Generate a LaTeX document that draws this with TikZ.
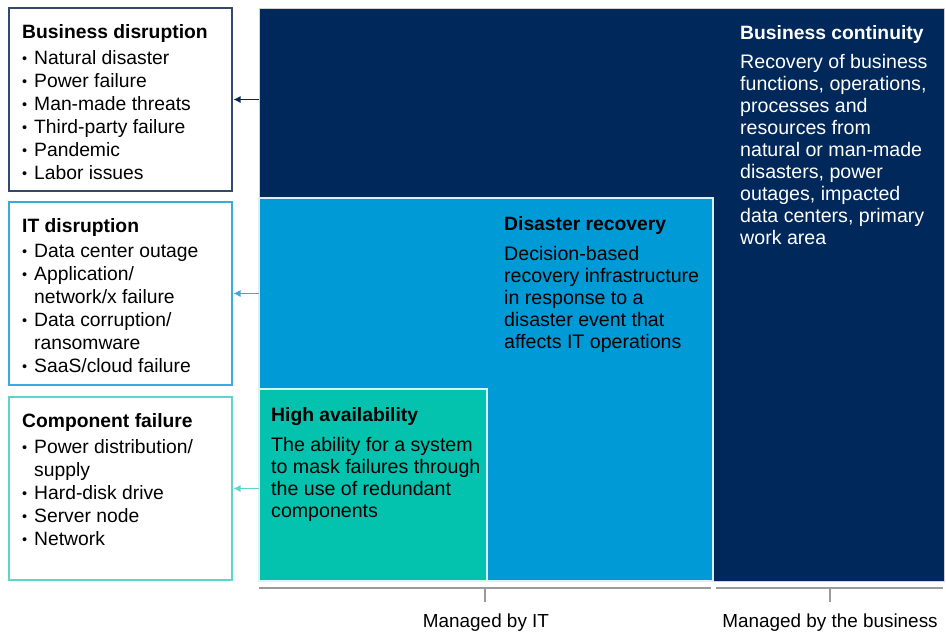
\documentclass[tikz,border=0pt]{standalone}
\usepackage{fontspec}
\setmainfont{Liberation Sans}
\usetikzlibrary{arrows.meta}
\definecolor{navy}{HTML}{00285A}
\definecolor{dblue}{HTML}{009BD7}
\definecolor{tealc}{HTML}{03C2AE}
\definecolor{boxa}{HTML}{34486E}
\definecolor{boxb}{HTML}{3AA9DC}
\definecolor{boxc}{HTML}{5CD6CB}
\definecolor{axisgray}{HTML}{9A9A9A}
\newcommand{\bul}{\makebox[12pt][l]{\raisebox{0.5pt}{\scalebox{0.75}{\textbullet}}}}
\newcommand{\ind}{\makebox[12pt][l]{}}
\begin{document}
\begin{tikzpicture}[x=1pt,y=-1pt,
 blk/.style={anchor=north west, inner sep=0pt, outer sep=0pt},
 lbox/.style={blk, draw, line width=1.2pt, fill=white, minimum width=223pt, minimum height=183pt},
 head/.style={anchor=north west, inner sep=0pt, font=\fontsize{19.3}{22}\selectfont\bfseries},
 body/.style={anchor=north west, inner sep=0pt, align=left, font=\fontsize{19.6}{22}\selectfont},
 list/.style={anchor=north west, inner sep=0pt, align=left, font=\fontsize{19.3}{23}\selectfont},
 conn/.style={-{Latex[length=7pt,width=7pt]}, line width=1.1pt, shorten >=1.5pt},
 axis/.style={draw=axisgray, line width=1.2pt},
 axlabel/.style={anchor=north, inner sep=0pt, font=\fontsize{18.9}{22}\selectfont}]

\useasboundingbox (0,0) rectangle (946,635);

% big blocks
\node[blk, fill=navy, draw=gray!35, line width=0.8pt, minimum width=685pt, minimum height=573pt] (bc) at (259,8) {};
\node[blk, fill=dblue, draw=white!85!dblue, line width=1.2pt, minimum width=454pt, minimum height=383pt] (dr) at (259,198) {};
\node[blk, fill=tealc, draw=white!85!tealc, line width=1.2pt, minimum width=228pt, minimum height=192pt] (ha) at (259,389) {};

% block texts
\node[head, text=white] (bch) at (740,25) {Business continuity};
\node[body, text=white] (bcb) at (740,54) {Recovery of business\\functions, operations,\\processes and\\resources from\\natural or man-made\\disasters, power\\outages, impacted\\data centers, primary\\work area};

\node[head, text=black] (drh) at (504,216) {Disaster recovery};
\node[body, text=black] (drb) at (504,246) {Decision-based\\recovery infrastructure\\in response to a\\disaster event that\\affects IT operations};

\node[head, text=black] (hah) at (271,407) {High availability};
\node[body, text=black] (hab) at (271,437) {The ability for a system\\to mask failures through\\the use of redundant\\components};

% left boxes
\node[lbox, draw=boxa] (b1) at (9,8) {};
\node[lbox, draw=boxb] (b2) at (9,202) {};
\node[lbox, draw=boxc] (b3) at (9,397) {};

\node[head] (b1h) at (22,24) {Business disruption};
\node[list] (b1l) at (22,50) {\bul Natural disaster\\\bul Power failure\\\bul Man-made threats\\\bul Third-party failure\\\bul Pandemic\\\bul Labor issues};

\node[head] (b2h) at (22,218) {IT disruption};
\node[list] (b2l) at (22,244) {\bul Data center outage\\\bul Application/\\\ind network/x failure\\\bul Data corruption/\\\ind ransomware\\\bul SaaS/cloud failure};

\node[head] (b3h) at (22,413) {Component failure};
\node[list] (b3l) at (22,439) {\bul Power distribution/\\\ind supply\\\bul Hard-disk drive\\\bul Server node\\\bul Network};

% connectors
\draw[conn, navy] (bc.west |- b1.east) -- (b1.east);
\draw[conn, boxb] (dr.west |- b2.east) -- (b2.east);
\draw[conn, boxc] (ha.west |- b3.east) -- (b3.east);

% axis
\coordinate (itl) at (259,588);
\coordinate (itr) at (711,588);
\coordinate (itt) at (485,588);
\coordinate (itb) at (485,602);
\coordinate (bul0) at (716,588);
\coordinate (bur) at (943,588);
\coordinate (but) at (830,588);
\coordinate (bub) at (830,602);
\draw[axis] (itl) -- (itr);
\draw[axis] (itt) -- (itb);
\draw[axis] (bul0) -- (bur);
\draw[axis] (but) -- (bub);
\node[axlabel] (mit) at (486,614) {Managed by IT};
\node[axlabel] (mbu) at (830,614) {Managed by the business};
\end{tikzpicture}
\end{document}
